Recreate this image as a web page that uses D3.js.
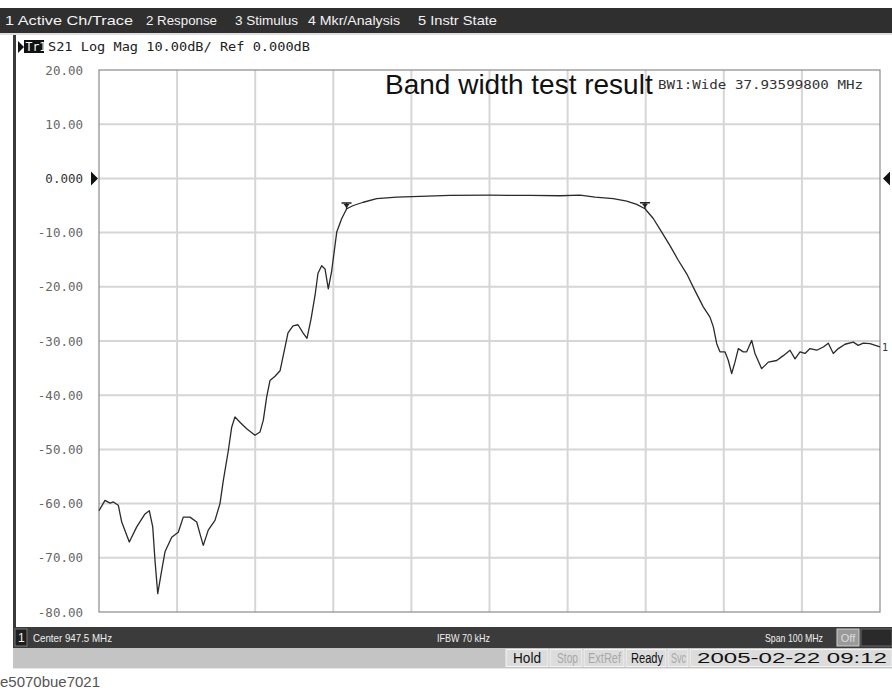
<!DOCTYPE html>
<html><head><meta charset="utf-8">
<script src="https://cdn.jsdelivr.net/npm/d3@7"></script>
<style>body{margin:0;background:#fff;overflow:hidden}text{white-space:pre}</style>
</head><body><svg id="c" width="892" height="696"></svg>
<script>
// ---- data ----
const freqMHz = [897.5,898.27,898.91,899.33,899.97,900.41,901.38,902.33,903.39,903.94,904.38,904.67,905.02,905.53,905.95,906.81,907.65,908.29,909.15,910.01,910.43,910.85,911.49,912.35,912.99,913.42,914.06,914.49,914.91,915.55,916.41,917.47,918.11,918.54,918.97,919.39,920.04,920.68,921.19,921.70,922.34,922.98,923.62,924.13,924.64,925.16,925.54,926.01,926.44,926.86,927.30,927.94,928.58,929.22,930.06,931.34,933.06,935.62,938.6,942.44,947.56,952.69,956.53,959.09,961.01,963.35,965.07,966.35,967.41,968.47,969.55,970.61,971.67,972.75,973.81,974.87,975.73,976.16,976.59,977.01,977.65,978.08,978.51,978.93,979.36,979.99,980.43,981.07,981.49,982.35,983.20,984.27,985.12,985.98,986.62,987.26,987.90,988.54,989.40,990.24,990.88,991.52,992.16,993.02,994.08,994.72,995.36,996.22,997.5];
const traceDb = [-61.3,-59.4,-59.9,-59.7,-60.3,-63.4,-67.1,-64.3,-61.9,-61.3,-64.3,-70.5,-76.6,-72.3,-68.9,-66.2,-65.3,-62.5,-62.5,-63.4,-65.6,-67.7,-64.9,-63.1,-60.0,-55.7,-50.2,-45.9,-44.0,-45.0,-46.2,-47.4,-46.8,-44.6,-40.3,-37.3,-36.5,-35.5,-32.0,-28.5,-27.2,-27.0,-28.5,-29.5,-26.0,-21.6,-17.5,-16.1,-16.7,-20.4,-17.0,-9.9,-7.4,-5.6,-5.0,-4.4,-3.75,-3.45,-3.3,-3.15,-3.1,-3.15,-3.2,-3.1,-3.45,-3.75,-4.2,-4.8,-5.6,-7.4,-9.9,-12.4,-15.1,-17.6,-20.7,-23.7,-25.6,-27.4,-30.5,-32.0,-32.0,-33.6,-36.0,-33.9,-31.4,-32.0,-32.0,-29.9,-32.3,-35.1,-33.9,-33.6,-32.7,-31.7,-33.3,-32.0,-32.3,-31.4,-31.7,-31.1,-30.4,-32.3,-31.4,-30.6,-30.2,-30.8,-30.4,-30.5,-31.1];
const yTickValues = [20,10,0,-10,-20,-30,-40,-50,-60,-70,-80];
const yTickLabels = ["20.00","10.00","0.000","-10.00","-20.00","-30.00","-40.00","-50.00","-60.00","-70.00","-80.00"];
const xGridMHz = [897.5,907.5,917.5,927.5,937.5,947.5,957.5,967.5,977.5,987.5,997.5];
const bwMarkersMHz = [929.2,967.4];
const menuItems = ["1 Active Ch/Trace","2 Response","3 Stimulus","4 Mkr/Analysis","5 Instr State"];
const menuX = [5,146,235,308,418];
const menuW = [128,71,63,92,79];
const titleText = "Band width test result";
const bwText = "BW1:Wide 37.93599800 MHz";
const headerText = "S21 Log Mag 10.00dB/ Ref 0.000dB";
const chanBarItems = ["Center 947.5 MHz","IFBW 70 kHz","Span 100 MHz"];
const chanBarX = [33,437,765];
const chanBarW = [79,53,58];
const statusItems = ["Hold","Stop","ExtRef","Ready","Svc","2005-02-22 09:12"];
const statusEnabled = [true,false,false,true,false,true];

// ---- layout ----
const svg = d3.select("#c");
const L=99, R=880, T=70, B=612;
const x = d3.scaleLinear().domain([897.5,997.5]).range([L,R]);
const y = d3.scaleLinear().domain([-80,20]).range([B,T]);
const uiFont = "Liberation Sans, Arial, sans-serif";
const mono = "DejaVu Sans Mono, monospace";

// top menu bar
svg.append("rect").attr("x",0).attr("y",8).attr("width",892).attr("height",25).attr("fill","#2f2f2f");
svg.append("line").attr("x1",0).attr("x2",892).attr("y1",34).attr("y2",34).attr("stroke","#bdbdbd").attr("stroke-width",1);
svg.selectAll(".menu").data(menuItems).join("text")
  .attr("x",(d,i)=>menuX[i]).attr("y",25)
  .attr("textLength",(d,i)=>menuW[i]).attr("lengthAdjust","spacingAndGlyphs")
  .attr("font-family",uiFont).attr("font-size",13)
  .attr("fill","#f2f2f2").text(d=>d);

// left window border
svg.append("rect").attr("x",13).attr("y",35).attr("width",3).attr("height",592).attr("fill","#3a3a3a");

// header line
svg.append("path").attr("d","M18,41 L24,47 L18,53 Z").attr("fill","#111");
svg.append("rect").attr("x",24).attr("y",40).attr("width",20).attr("height",13).attr("fill","#111");
svg.append("text").attr("x",25.5).attr("y",51).attr("font-family",mono)
  .attr("font-size",11.5).attr("fill","#fff").text("Tr1");
svg.append("text").attr("x",48).attr("y",51).attr("font-family",mono)
  .attr("font-size",12.5).attr("textLength",262).attr("lengthAdjust","spacingAndGlyphs")
  .attr("fill","#222").text(headerText);

// grid
const g = svg.append("g");
g.selectAll(".vg").data(xGridMHz.slice(1,-1)).join("line")
  .attr("x1",d=>x(d)).attr("x2",d=>x(d)).attr("y1",T).attr("y2",B)
  .attr("stroke","#d6d6d6").attr("stroke-width",2);
g.selectAll(".hg").data(yTickValues.slice(1,-1)).join("line")
  .attr("x1",L).attr("x2",R).attr("y1",d=>y(d)).attr("y2",d=>y(d))
  .attr("stroke","#d6d6d6").attr("stroke-width",2);
g.append("rect").attr("x",L).attr("y",T).attr("width",R-L).attr("height",B-T)
  .attr("fill","none").attr("stroke","#8a8a8a").attr("stroke-width",1.2);

// y labels via axis
const yAxis = d3.axisLeft(y).tickValues(yTickValues).tickSize(0).tickPadding(0)
  .tickFormat((d,i)=>yTickLabels[i]);
const ya = svg.append("g").attr("transform",`translate(${L-16},0)`).call(yAxis);
ya.select(".domain").remove();
ya.selectAll("text").attr("font-family",mono).attr("font-size",12.5)
  .attr("fill",(d)=>d===0?"#333":"#666");

// reference triangles
svg.append("path").attr("d",`M${L-8},${y(0)-7} L${L-1},${y(0)} L${L-8},${y(0)+7} Z`).attr("fill","#111");
svg.append("path").attr("d",`M${R+10},${y(0)-7} L${R+3},${y(0)} L${R+10},${y(0)+7} Z`).attr("fill","#111");

// title and BW text
svg.append("text").attr("x",385).attr("y",94).attr("font-family",uiFont)
  .attr("font-size",28).attr("fill","#111").text(titleText);
svg.append("text").attr("x",658).attr("y",89).attr("font-family",mono)
  .attr("font-size",12).attr("textLength",205).attr("lengthAdjust","spacingAndGlyphs")
  .attr("fill","#333").text(bwText);

// trace
const pts = freqMHz.map((f,i)=>[f,traceDb[i]]);
const line = d3.line().x(d=>x(d[0])).y(d=>y(d[1]));
svg.append("path").datum(pts).attr("d",line).attr("fill","none")
  .attr("stroke","#2a2a2a").attr("stroke-width",1.3).attr("stroke-linejoin","round");
// end label
svg.append("text").attr("x",R+2).attr("y",y(traceDb[traceDb.length-1])+4)
  .attr("font-family",mono).attr("font-size",10).attr("fill","#333").text("1");

// BW markers
const interp = f=>{ for(let i=1;i<freqMHz.length;i++){ if(f<=freqMHz[i]){const t=(f-freqMHz[i-1])/(freqMHz[i]-freqMHz[i-1]);return traceDb[i-1]+t*(traceDb[i]-traceDb[i-1]);} } return traceDb[traceDb.length-1]; };
bwMarkersMHz.forEach(f=>{
  const px=x(f), py=y(interp(f));
  svg.append("path").attr("d",`M${px-5},${py-6} H${px+5} M${px},${py-6} L${px},${py}`)
    .attr("stroke","#222").attr("stroke-width",1.4).attr("fill","none");
  svg.append("path").attr("d",`M${px-3},${py-5} L${px+3},${py-5} L${px},${py-1} Z`).attr("fill","#222");
});

// bottom channel bar
svg.append("rect").attr("x",13).attr("y",627).attr("width",879).attr("height",21).attr("fill","#3b3b3b");
svg.append("rect").attr("x",15).attr("y",629).attr("width",12).attr("height",17).attr("fill","#1e1e1e").attr("stroke","#777");
svg.append("text").attr("x",18).attr("y",642).attr("font-family",uiFont).attr("font-size",12).attr("fill","#eee").text("1");
svg.selectAll(".cb").data(chanBarItems).join("text")
  .attr("x",(d,i)=>chanBarX[i]).attr("y",642)
  .attr("textLength",(d,i)=>chanBarW[i]).attr("lengthAdjust","spacingAndGlyphs")
  .attr("font-family",uiFont).attr("font-size",11.5).attr("fill","#eee").text(d=>d);
svg.append("rect").attr("x",837).attr("y",629).attr("width",22).attr("height",17).attr("fill","#9a9a9a").attr("stroke","#cfcfcf");
svg.append("text").attr("x",848).attr("y",642).attr("text-anchor","middle").attr("font-family",uiFont).attr("font-size",11).attr("fill","#dcdcdc").text("Off");
svg.append("rect").attr("x",861).attr("y",629).attr("width",31).attr("height",17).attr("fill","#2a2a2a").attr("stroke","#666");

// status bar
svg.append("rect").attr("x",13).attr("y",648).attr("width",879).attr("height",20).attr("fill","#c4c4c4");
svg.append("line").attr("x1",13).attr("x2",892).attr("y1",668.5).attr("y2",668.5).attr("stroke","#e6e6e6");
const sx = [506,550,584,626,668,690];
const sw = [42,32,40,40,20,202];
const tx = [513,557,588,631,671,697];
const tw = [28,21,33,32,15,190];
statusItems.forEach((s,i)=>{
  svg.append("rect").attr("x",sx[i]).attr("y",649.5).attr("width",sw[i]).attr("height",17)
    .attr("fill","#dcdcdc").attr("stroke","#f4f4f4");
  svg.append("text").attr("x",tx[i]).attr("y",663)
    .attr("textLength",tw[i]).attr("lengthAdjust","spacingAndGlyphs")
    .attr("font-family",uiFont).attr("font-size",14).attr("fill",statusEnabled[i]?"#111":"#a8a8a8").text(s);
});

// caption
svg.append("text").attr("x",0).attr("y",687).attr("textLength",100).attr("lengthAdjust","spacingAndGlyphs")
  .attr("font-family",uiFont).attr("font-size",14).attr("fill","#555").text("e5070bue7021");
</script></body></html>
